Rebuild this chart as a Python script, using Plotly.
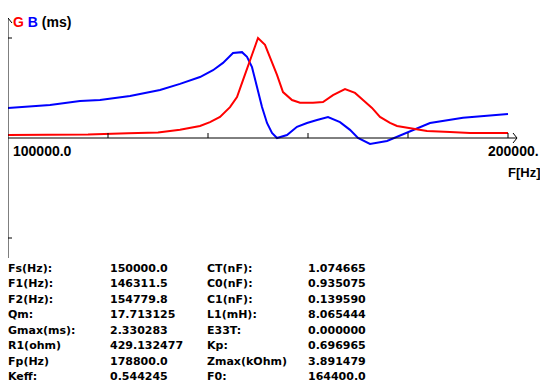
import plotly.graph_objects as go

# ---- data (frequency in Hz, G/B in mS) ----
freq_g = [100000, 116000, 124000, 130000, 134400, 138400, 140400, 142400, 144400, 145800,
          147000, 148400, 149200, 150000, 151400, 152400, 153800, 155000, 156800, 158400,
          161000, 163000, 165000, 167400, 169400, 171000, 172800, 174400, 176400, 177800,
          180400, 183800, 188400, 192400, 200000]
g_vals = [0.07, 0.08, 0.11, 0.13, 0.19, 0.28, 0.37, 0.49, 0.72, 0.955,
          1.35, 1.82, 2.10, 2.33, 2.17, 1.89, 1.47, 1.07, 0.885, 0.82,
          0.82, 0.84, 1.00, 1.14, 1.05, 0.885, 0.70, 0.49, 0.35, 0.28,
          0.233, 0.163, 0.14, 0.117, 0.117]

freq_b = [100000, 108400, 114400, 118400, 124400, 130400, 134400, 138400, 141000, 143000,
          145000, 146800, 147800, 148800, 149800, 150800, 151800, 152800, 153800, 155800,
          157800, 159800, 161800, 164000, 166400, 168400, 170000, 172400, 175800, 180000,
          184400, 191000, 200000]
b_vals = [0.70, 0.77, 0.86, 0.885, 0.98, 1.12, 1.26, 1.42, 1.58, 1.75,
          1.98, 2.00, 1.89, 1.65, 1.19, 0.72, 0.35, 0.117, 0.0, 0.07,
          0.26, 0.35, 0.42, 0.49, 0.37, 0.19, 0.0, -0.14, -0.07, 0.14,
          0.35, 0.47, 0.56]

x_ticks = [120000, 140000, 160000, 180000, 200000]
y_ticks = [2.33, -2.33]
x_start_label = "100000.0"
x_end_label = "200000."

table_col1 = ["Fs(Hz):", "F1(Hz):", "F2(Hz):", "Qm:", "Gmax(ms):", "R1(ohm)", "Fp(Hz)", "Keff:"]
table_col2 = ["150000.0", "146311.5", "154779.8", "17.713125", "2.330283", "429.132477", "178800.0", "0.544245"]
table_col3 = ["CT(nF):", "C0(nF):", "C1(nF):", "L1(mH):", "E33T:", "Kp:", "Zmax(kOhm)", "F0:"]
table_col4 = ["1.074665", "0.935075", "0.139590", "8.065444", "0.000000", "0.696965", "3.891479", "164400.0"]

# ---- geometry ----
W, H = 540, 392
L, R, T, B = 8, 22, 18, 134
XR = [100000, 202000]
YR = [-2.796, 2.796]
dx = (XR[1] - XR[0]) / (W - L - R)   # Hz per px
dy = (YR[1] - YR[0]) / (H - T - B)   # mS per px

def px(xp):
    return (xp - L) / (W - L - R)

def py(yp):
    return (H - B - yp) / (H - T - B)

fig = go.Figure()
fig.add_trace(go.Scatter(x=freq_b, y=b_vals, mode="lines",
                         line=dict(color="#0000ff", width=2), hoverinfo="skip"))
fig.add_trace(go.Scatter(x=freq_g, y=g_vals, mode="lines",
                         line=dict(color="#ff0000", width=2), hoverinfo="skip"))

shapes = []
ax = dict(color="black", width=1)
# x axis + arrow
shapes.append(dict(type="line", x0=XR[0], x1=XR[1] - 1 * dx, y0=0, y1=0, line=ax))
shapes.append(dict(type="line", x0=XR[1] - 1 * dx, x1=XR[1] - 5 * dx, y0=0, y1=5 * dy, line=ax))
shapes.append(dict(type="line", x0=XR[1] - 1 * dx, x1=XR[1] - 5 * dx, y0=0, y1=-5 * dy, line=ax))
# y axis + arrow
shapes.append(dict(type="line", x0=XR[0], x1=XR[0], y0=YR[0], y1=YR[1], line=ax))
shapes.append(dict(type="line", x0=XR[0], x1=XR[0] - 4 * dx, y0=YR[1], y1=YR[1] - 5 * dy, line=ax))
shapes.append(dict(type="line", x0=XR[0], x1=XR[0] + 4 * dx, y0=YR[1], y1=YR[1] - 5 * dy, line=ax))
for xt in x_ticks:
    shapes.append(dict(type="line", x0=xt, x1=xt, y0=0, y1=5 * dy, line=ax))
for yt in y_ticks:
    shapes.append(dict(type="line", x0=XR[0], x1=XR[0] + 4 * dx, y0=yt, y1=yt, line=ax))

ann = []
def text(x, y, s, size, family, color="black"):
    ann.append(dict(x=px(x), y=py(y), xref="paper", yref="paper", text=s,
                    showarrow=False, xanchor="left", yanchor="middle",
                    borderpad=0, font=dict(size=size, family=family, color=color)))

big = "Liberation Sans"
text(12, 22, '<b><span style="color:#ff0000">G</span> <span style="color:#0000ff">B</span> (ms)</b>', 14, big)
text(12, 151, "<b>" + x_start_label + "</b>", 14, big)
text(487, 151, "<b>" + x_end_label + "</b>", 14, big)
text(507, 173, "<b>F[Hz]</b>", 13, big)

small = "DejaVu Sans"
for i in range(len(table_col1)):
    yy = 268 + i * 15.57
    text(7, yy, "<b>" + table_col1[i] + "</b>", 11, small)
    text(109, yy, "<b>" + table_col2[i] + "</b>", 11, small)
    text(206, yy, "<b>" + table_col3[i] + "</b>", 11, small)
    text(307, yy, "<b>" + table_col4[i] + "</b>", 11, small)

fig.update_layout(
    width=W, height=H,
    margin=dict(l=L, r=R, t=T, b=B, pad=0),
    paper_bgcolor="white", plot_bgcolor="white",
    showlegend=False,
    xaxis=dict(range=XR, visible=False, fixedrange=True),
    yaxis=dict(range=YR, visible=False, fixedrange=True),
    shapes=shapes, annotations=ann,
)

fig.write_html("out.html", config={"displayModeBar": False})
